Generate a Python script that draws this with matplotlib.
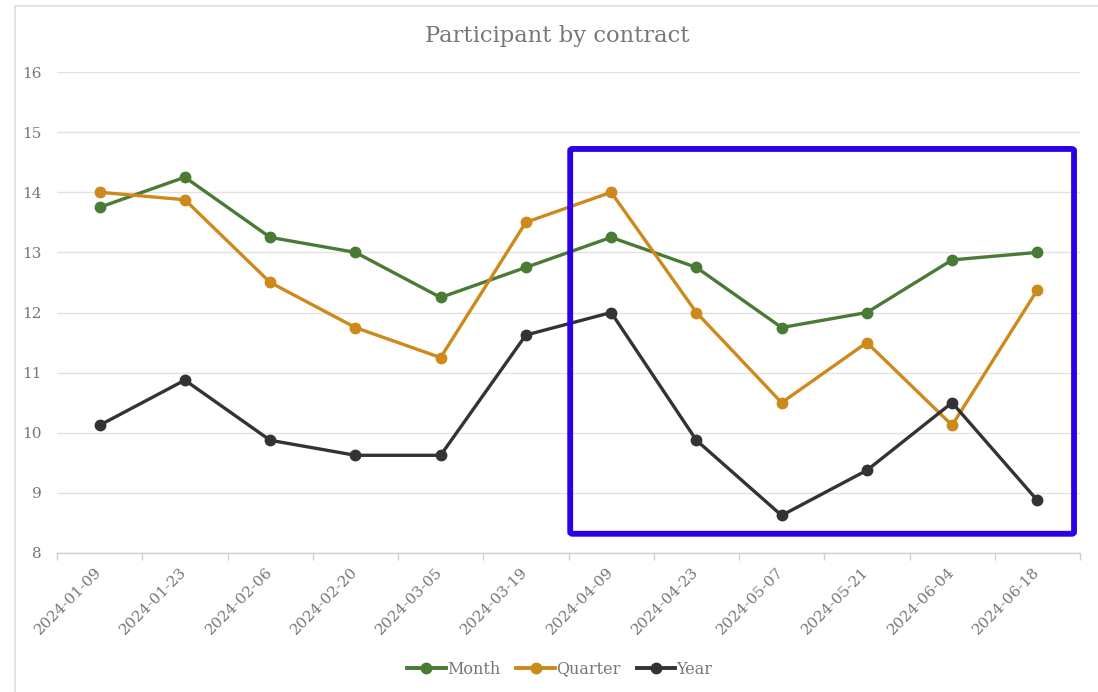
import matplotlib
matplotlib.use("Agg")
import matplotlib.pyplot as plt
from matplotlib.patches import FancyBboxPatch
from matplotlib.lines import Line2D

dates = ["2024-01-09", "2024-01-23", "2024-02-06", "2024-02-20", "2024-03-05", "2024-03-19",
         "2024-04-09", "2024-04-23", "2024-05-07", "2024-05-21", "2024-06-04", "2024-06-18"]
month = [13.75, 14.25, 13.25, 13.0, 12.25, 12.75, 13.25, 12.75, 11.75, 12.0, 12.875, 13.0]
quarter = [14.0, 13.875, 12.5, 11.75, 11.25, 13.5, 14.0, 12.0, 10.5, 11.5, 10.125, 12.375]
year = [10.125, 10.875, 9.875, 9.625, 9.625, 11.625, 12.0, 9.875, 8.625, 9.375, 10.5, 8.875]
series_names = ["Month", "Quarter", "Year"]
series_colors = ["#497b35", "#cd8a1b", "#333333"]
yticks = [8, 9, 10, 11, 12, 13, 14, 15, 16]

FONT = ["DejaVu Serif"]
TXT = "#777777"
W, H = 1098, 692
fig = plt.figure(figsize=(W / 100, H / 100), dpi=100)

# container border (left and top edges only visible)
fig.add_artist(Line2D([14.5 / W, 14.5 / W, 1.0], [0, 1 - 5.5 / H, 1 - 5.5 / H],
                      transform=fig.transFigure, color="#e3e3e3", lw=1.5))

ax = fig.add_axes([57 / W, 1 - 553 / H, (1080 - 57) / W, (553 - 72) / H])
x = list(range(len(dates)))
for vals, name, col in zip([month, quarter, year], series_names, series_colors):
    ax.plot(x, vals, color=col, lw=2.4, marker="o", ms=7.5, label=name,
            solid_joinstyle="round", zorder=3)

ax.set_xlim(-0.5, len(dates) - 0.5)
ax.set_ylim(8, 16)
ax.set_yticks(yticks)
ax.set_yticklabels([str(v) for v in yticks], fontfamily=FONT, fontsize=11, color=TXT)
ax.tick_params(axis="y", length=0, pad=11)
ax.grid(axis="y", color="#e2e2e2", lw=1)
ax.set_axisbelow(True)
for s in ["top", "right", "left"]:
    ax.spines[s].set_visible(False)
ax.spines["bottom"].set_color("#d0d0d0")
ax.spines["bottom"].set_linewidth(1)

# category boundary ticks
ax.set_xticks([i - 0.5 for i in range(len(dates) + 1)])
ax.set_xticklabels([])
ax.tick_params(axis="x", length=5, color="#d0d0d0", width=1)
for i, d in enumerate(dates):
    ax.annotate(d, xy=(i, 8), xycoords="data", xytext=(0, -12), textcoords="offset points",
                rotation=45, ha="right", va="center", rotation_mode="anchor",
                fontfamily=FONT, fontsize=11, color=TXT)

# highlight box
ax.add_patch(FancyBboxPatch((5.52, 8.32), 11.43 - 5.52, 14.72 - 8.32,
                            boxstyle="round,pad=0,rounding_size=0.03",
                            fill=False, ec="#2b00e6", lw=4.2, zorder=5,
                            clip_on=False, mutation_aspect=1))

fig.text(557 / W, 1 - 36 / H, "Participant by contract", ha="center", va="center",
         fontfamily=FONT, fontsize=16.3, color=TXT)

handles = [Line2D([], [], color=c, lw=2.8, marker="o", ms=7.5) for c in series_colors]
leg = fig.legend(handles, series_names, loc="center", bbox_to_anchor=(560 / W, 1 - 669 / H),
                 ncol=3, frameon=False, handlelength=2.4, handletextpad=0.1, columnspacing=1.0,
                 prop={"family": FONT, "size": 11.5})
for t in leg.get_texts():
    t.set_color(TXT)

fig.savefig("out.png", dpi=100, facecolor="white")
